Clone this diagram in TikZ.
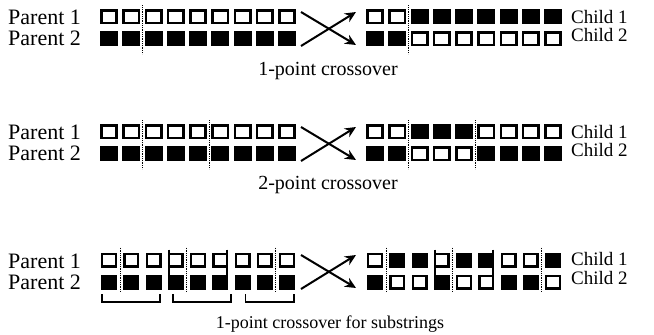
\documentclass[tikz,border=0pt]{standalone}
\usepackage{fontspec}
\setmainfont{Liberation Serif}
\usetikzlibrary{calc,arrows.meta}

% one row of bits: name, centre x of the first square, centre y, pitch, list of 0/1
\newcommand\bitrow[5]{%
  \foreach \bv [count=\i] in {#5}{%
    \ifnum\bv=1
      \node[bon] (#1-\i) at ({#2+(\i-1)*#4}, #3) {};
    \else
      \node[boff] (#1-\i) at ({#2+(\i-1)*#4}, #3) {};
    \fi
  }%
}

\begin{document}
\begin{tikzpicture}[x=1pt,y=-1pt,
  bit/.style={draw=black,line width=2.6pt,inner sep=0pt,outer sep=0pt,
              minimum width=15.4pt,minimum height=12.6pt},
  small/.style={bit/.append style={line width=2.4pt,minimum width=13.6pt,minimum height=12.6pt}},
  boff/.style={bit,fill=white},
  bon/.style={bit,fill=black},
  plab/.style={anchor=west,inner sep=0pt,font=\fontsize{22}{22}\selectfont},
  clab/.style={anchor=west,inner sep=0pt,font=\fontsize{19}{19}\selectfont},
  captext/.style={inner sep=0pt,font=\fontsize{20}{20}\selectfont},
  cutline/.style={line width=1pt,dash pattern=on 1pt off 0.8pt},
  sepline/.style={line width=2pt},
  brk/.style={line width=1.8pt},
  xarr/.style={line width=2pt,-{Stealth[length=11pt,width=10pt]}}]
\useasboundingbox (0,0) rectangle (654,335);

% ---------- 1-point crossover ----------
\node[plab] (l1a) at (8,17) {Parent 1};
\node[plab] (l1b) at (8,38) {Parent 2};
\bitrow{p1a}{109}{16.5}{22.25}{0,0,0,0,0,0,0,0,0}
\bitrow{p1b}{109}{38.5}{22.25}{1,1,1,1,1,1,1,1,1}
\bitrow{c1a}{375}{16.5}{22.25}{0,0,1,1,1,1,1,1,1}
\bitrow{c1b}{375}{38.5}{22.25}{1,1,0,0,0,0,0,0,0}
\node[clab] (k1a) at (571,17) {Child 1};
\node[clab] (k1b) at (571,35) {Child 2};
\draw[cutline] ($(p1a-2.north east)!.5!(p1a-3.north west)+(0,-5)$) -- ($(p1b-2.south east)!.5!(p1b-3.south west)+(0,9)$);
\draw[cutline] ($(c1a-2.north east)!.5!(c1a-3.north west)+(0,-5)$) -- ($(c1b-2.south east)!.5!(c1b-3.south west)+(0,9)$);
\coordinate (a1s) at (301,12);  \coordinate (a1e) at (356,45);
\coordinate (b1s) at (301,46);  \coordinate (b1e) at (356,12);
\draw[xarr] (a1s) -- (a1e);
\draw[xarr] (b1s) -- (b1e);
\node[captext] (t1) at (328,71) {1-point crossover};

% ---------- 2-point crossover ----------
\node[plab] (l2a) at (8,132) {Parent 1};
\node[plab] (l2b) at (8,153) {Parent 2};
\bitrow{p2a}{109}{131.5}{22.25}{0,0,0,0,0,0,0,0,0}
\bitrow{p2b}{109}{153.5}{22.25}{1,1,1,1,1,1,1,1,1}
\bitrow{c2a}{375}{131.5}{22.25}{0,0,1,1,1,0,0,0,0}
\bitrow{c2b}{375}{153.5}{22.25}{1,1,0,0,0,1,1,1,1}
\node[clab] (k2a) at (571,132) {Child 1};
\node[clab] (k2b) at (571,150) {Child 2};
\foreach \n/\m in {2/3,5/6}{
  \draw[cutline] ($(p2a-\n.north east)!.5!(p2a-\m.north west)+(0,-5)$) -- ($(p2b-\n.south east)!.5!(p2b-\m.south west)+(0,9)$);
  \draw[cutline] ($(c2a-\n.north east)!.5!(c2a-\m.north west)+(0,-5)$) -- ($(c2b-\n.south east)!.5!(c2b-\m.south west)+(0,9)$);
}
\coordinate (a2s) at (301,127); \coordinate (a2e) at (356,160);
\coordinate (b2s) at (301,161); \coordinate (b2e) at (356,127);
\draw[xarr] (a2s) -- (a2e);
\draw[xarr] (b2s) -- (b2e);
\node[captext] (t2) at (328,185) {2-point crossover};

% ---------- 1-point crossover for substrings ----------
\begin{scope}[small]
\node[plab] (l3a) at (8,261) {Parent 1};
\node[plab] (l3b) at (8,282) {Parent 2};
\bitrow{p3a}{109}{260}{22.25}{0,0,0,0,0,0,0,0,0}
\bitrow{p3b}{109}{282}{22.25}{1,1,1,1,1,1,1,1,1}
\bitrow{c3a}{375}{260}{22.25}{0,1,1,0,1,1,0,0,1}
\bitrow{c3b}{375}{282}{22.25}{1,0,0,1,0,0,1,1,0}
\node[clab] (k3a) at (571,259) {Child 1};
\node[clab] (k3b) at (571,278) {Child 2};
% substring borders
\draw[sepline] ($(p3a-4.north west)+(0,-4)$) -- ($(p3b-4.south west)+(0,2)$);
\draw[sepline] ($(p3a-6.north east)+(0,-4)$) -- ($(p3b-6.south east)+(0,2)$);
\draw[sepline] ($(c3a-4.north west)+(0,-4)$) -- ($(c3b-4.south west)+(0,2)$);
\draw[sepline] ($(c3a-6.north east)+(0,-4)$) -- ($(c3b-6.south east)+(0,2)$);
% crossing points inside each substring
\foreach \n/\m in {1/2,4/5,8/9}{
  \draw[cutline] ($(p3a-\n.north east)!.5!(p3a-\m.north west)+(0,-6)$) -- ($(p3b-\n.south east)!.5!(p3b-\m.south west)+(0,3)$);
  \draw[cutline] ($(c3a-\n.north east)!.5!(c3a-\m.north west)+(0,-6)$) -- ($(c3b-\n.south east)!.5!(c3b-\m.south west)+(0,3)$);
}
% brackets under the substrings
\draw[brk] ($(p3b-1.south west)+(0,6)$) -- ++(0,8) -| ($(p3b-3.south east)+(0,6)$);
\draw[brk] ($(p3b-4.south west)+(4,6)$) -- ++(0,8) -| ($(p3b-6.south east)+(4,6)$);
\draw[brk] ($(p3b-7.south)+(3,6)$) -- ++(0,8) -| ($(p3b-9.south east)+(0,6)$);
\coordinate (a3s) at (301,255); \coordinate (a3e) at (356,288);
\coordinate (b3s) at (301,289); \coordinate (b3e) at (356,255);
\draw[xarr] (a3s) -- (a3e);
\draw[xarr] (b3s) -- (b3e);
\node[captext,font=\fontsize{18}{18}\selectfont] (t3) at (330,324) {1-point crossover for substrings};
\end{scope}
\end{tikzpicture}
\end{document}
